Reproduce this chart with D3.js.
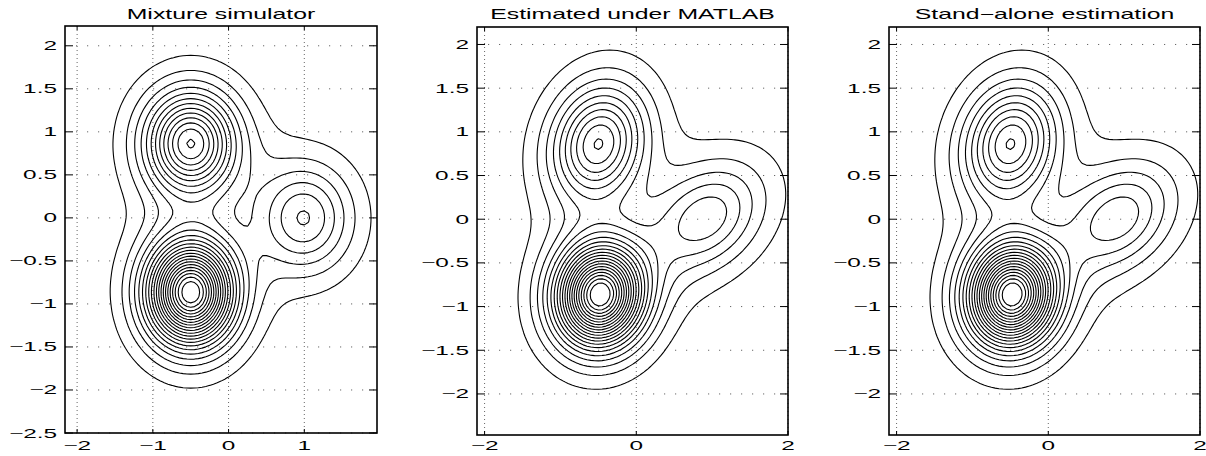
<!doctype html>
<html>
<head>
<meta charset="UTF-8">
<title>Mixture contours</title>
<script src="https://d3js.org/d3.v7.min.js"></script>
<style>
  body { margin: 0; background: #fff; }
  svg { display: block; }
  text { font-family: "Liberation Sans", Arial, Helvetica, sans-serif; fill: #000; }
</style>
</head>
<body>
<script>

	// panel titles
	var titles = ["Mixture simulator", "Estimated under MATLAB", "Stand\u2212alone estimation"];

	// contour levels (equal steps)
	var levels = [1, 2, 3, 4, 5, 6, 7, 8, 9, 10, 11, 12, 13, 14, 15, 16, 17, 18, 19, 20, 21];

	// tick labels
	var xTicksSim = [-2, -1, 0, 1];
	var yTicksSim = [-2.5, -2, -1.5, -1, -0.5, 0, 0.5, 1, 1.5, 2];
	var xTicksEst = [-2, 0, 2];
	var yTicksEst = [-2, -1.5, -1, -0.5, 0, 0.5, 1, 1.5, 2];

	// shape of the component kernels (heavy-ish tails)
	var tailDf = 10;

	// mixture components: top, bottom, right
	// panel 1 - simulator
	var simMeanX = [-0.5, -0.5, 1.0];
	var simMeanY = [0.866, -0.866, 0.0];
	var simPeak  = [13.01, 22.0, 6.01];
	var simSdX   = [0.442, 0.408, 0.471];
	var simSdY   = [0.442, 0.428, 0.471];
	var simRho   = [0.0, 0.0, 0.0];

	// panel 2 - estimated under MATLAB
	var matMeanX = [-0.5, -0.48, 0.92];
	var matMeanY = [0.866, -0.866, 0.02];
	var matPeak  = [10.01, 22.0, 5.66];
	var matSdX   = [0.457, 0.412, 0.573];
	var matSdY   = [0.494, 0.415, 0.48];
	var matRho   = [0.15, 0.05, 0.30];

	// panel 3 - stand-alone estimation
	var sepMeanX = [-0.5, -0.48, 0.92];
	var sepMeanY = [0.866, -0.866, 0.02];
	var sepPeak  = [10.01, 22.0, 5.66];
	var sepSdX   = [0.457, 0.412, 0.573];
	var sepSdY   = [0.494, 0.415, 0.48];
	var sepRho   = [0.15, 0.05, 0.30];

	var W = 1206, H = 456;

	var panels = [
		{ title: titles[0], left: 65,  right: 377,  top: 26, bottom: 433, xDom: [-2.16, 1.96], yDom: [-2.5, 2.23],
		  xTicks: xTicksSim, yTicks: yTicksSim,
		  comp: { mx: simMeanX, my: simMeanY, peak: simPeak, sx: simSdX, sy: simSdY, rho: simRho } },
		{ title: titles[1], left: 477, right: 788,  top: 27, bottom: 435, xDom: [-2.1, 2.0], yDom: [-2.47, 2.2],
		  xTicks: xTicksEst, yTicks: yTicksEst,
		  comp: { mx: matMeanX, my: matMeanY, peak: matPeak, sx: matSdX, sy: matSdY, rho: matRho } },
		{ title: titles[2], left: 889, right: 1200, top: 27, bottom: 435, xDom: [-2.1, 2.0], yDom: [-2.47, 2.2],
		  xTicks: xTicksEst, yTicks: yTicksEst,
		  comp: { mx: sepMeanX, my: sepMeanY, peak: sepPeak, sx: sepSdX, sy: sepSdY, rho: sepRho } }
	];

	var svg = d3.select("body").append("svg")
		.attr("width", W)
		.attr("height", H);

	// density of the mixture at (x, y)
	function density(c, x, y) {
		var s = 0;
		for (var k = 0; k < c.mx.length; k++) {
			var dx = (x - c.mx[k]) / c.sx[k];
			var dy = (y - c.my[k]) / c.sy[k];
			var r = c.rho[k];
			var q = (dx * dx - 2 * r * dx * dy + dy * dy) / (1 - r * r);
			s += c.peak[k] * Math.pow(1 + q / tailDf, -(tailDf + 2) / 2);
		}
		return s;
	}

	// sampling grid
	var stepX = 0.05, stepY = 0.0433;
	var gx0 = -2.3, gy0 = -0.866 - 40 * stepY;
	var nx = Math.round((2.2 - gx0) / stepX) + 1;
	var ny = Math.round((2.4 - gy0) / stepY) + 1;

	var minus = function(v) { return (v < 0 ? "\u2212" : "") + Math.abs(v); };

	panels.forEach(function(p, i) {

		var x = d3.scaleLinear().domain(p.xDom).range([p.left, p.right]);
		var y = d3.scaleLinear().domain(p.yDom).range([p.bottom, p.top]);

		var g = svg.append("g");

		g.append("clipPath").attr("id", "clip" + i)
			.append("rect")
				.attr("x", p.left).attr("y", p.top)
				.attr("width", p.right - p.left).attr("height", p.bottom - p.top);

		// grid lines
		g.selectAll(".hgrid").data(p.yTicks).enter().append("line")
			.attr("x1", p.left).attr("x2", p.right)
			.attr("y1", function(d) { return y(d); })
			.attr("y2", function(d) { return y(d); })
			.attr("stroke", "#666")
			.attr("stroke-width", 1)
			.attr("stroke-dasharray", "1.2,9.8");

		g.selectAll(".vgrid").data(p.xTicks).enter().append("line")
			.attr("y1", p.top).attr("y2", p.bottom)
			.attr("x1", function(d) { return x(d); })
			.attr("x2", function(d) { return x(d); })
			.attr("stroke", "#666")
			.attr("stroke-width", 1)
			.attr("stroke-dasharray", "1,3");

		// density on the grid
		var values = new Array(nx * ny);
		for (var j = 0; j < ny; j++) {
			for (var k = 0; k < nx; k++) {
				values[j * nx + k] = density(p.comp, gx0 + k * stepX, gy0 + j * stepY);
			}
		}

		var contours = d3.contours().size([nx, ny]).thresholds(levels)(values);

		var path = d3.geoPath(d3.geoTransform({
			point: function(px, py) {
				this.stream.point(x(gx0 + (px - 0.5) * stepX), y(gy0 + (py - 0.5) * stepY));
			}
		}));

		g.append("g")
			.attr("clip-path", "url(#clip" + i + ")")
			.selectAll("path").data(contours).enter().append("path")
				.attr("d", path)
				.attr("fill", "none")
				.attr("stroke", "#000")
				.attr("stroke-width", 1.1)
				.attr("stroke-linejoin", "round");

		// inward ticks on all four sides
		p.yTicks.forEach(function(d) {
			g.append("line").attr("x1", p.left).attr("x2", p.left + 8)
				.attr("y1", y(d)).attr("y2", y(d)).attr("stroke", "#000").attr("stroke-width", 1);
			g.append("line").attr("x1", p.right - 8).attr("x2", p.right)
				.attr("y1", y(d)).attr("y2", y(d)).attr("stroke", "#000").attr("stroke-width", 1);
		});
		p.xTicks.forEach(function(d) {
			g.append("line").attr("y1", p.bottom).attr("y2", p.bottom - 4)
				.attr("x1", x(d)).attr("x2", x(d)).attr("stroke", "#000").attr("stroke-width", 1);
			g.append("line").attr("y1", p.top).attr("y2", p.top + 4)
				.attr("x1", x(d)).attr("x2", x(d)).attr("stroke", "#000").attr("stroke-width", 1);
		});

		// axes box
		g.append("rect")
			.attr("x", p.left).attr("y", p.top)
			.attr("width", p.right - p.left).attr("height", p.bottom - p.top)
			.attr("fill", "none")
			.attr("stroke", "#000")
			.attr("stroke-width", 1.6);

		// tick labels (the print is stretched sideways)
		p.yTicks.forEach(function(d) {
			g.append("g")
				.attr("transform", "translate(" + (p.left - 8) + "," + (y(d) + 4.5) + ") scale(1.95,1)")
				.append("text")
					.attr("text-anchor", "end")
					.style("font-size", "12.5px")
					.text(minus(d));
		});
		p.xTicks.forEach(function(d) {
			g.append("g")
				.attr("transform", "translate(" + x(d) + "," + 449.5 + ") scale(1.95,1)")
				.append("text")
					.attr("text-anchor", "middle")
					.style("font-size", "12.5px")
					.text(minus(d));
		});

		// title
		g.append("g")
			.attr("transform", "translate(" + ((p.left + p.right) / 2) + ",18.5) scale(1.77,1)")
			.append("text")
				.attr("text-anchor", "middle")
				.style("font-size", "14px")
				.text(p.title);
	});

</script>
</body>
</html>
